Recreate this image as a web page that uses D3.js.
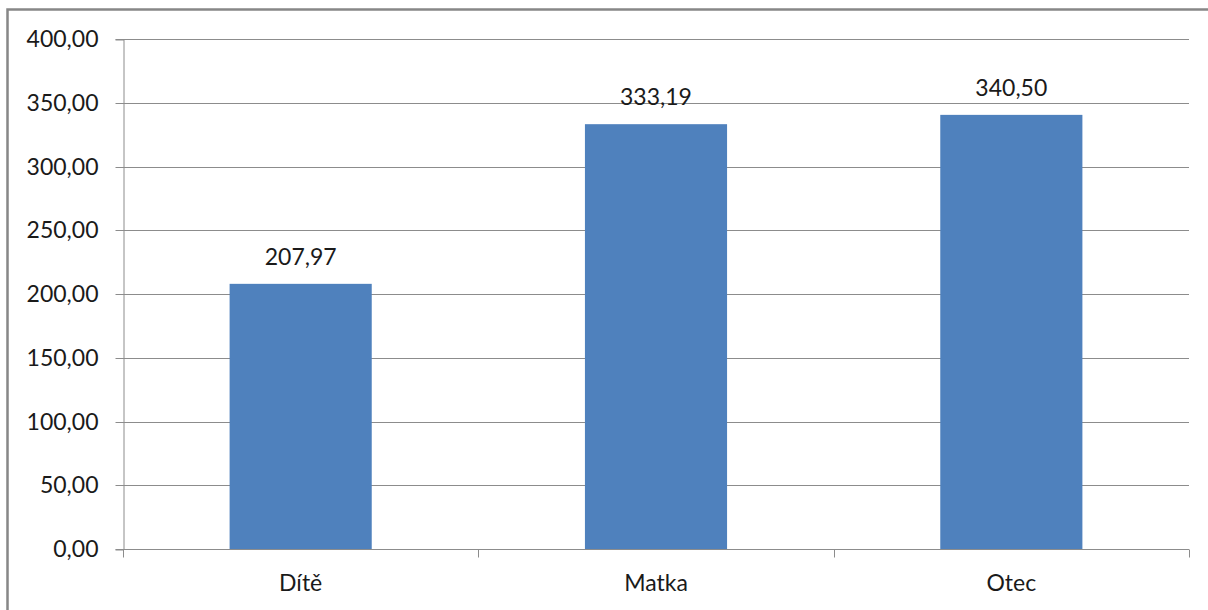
<!DOCTYPE html>
<html>
<head>
<meta charset="utf-8">
<script src="https://cdn.jsdelivr.net/npm/d3@7"></script>
<style>
  html, body { margin: 0; padding: 0; background: #fff; }
  svg { display: block; }
  text { font-family: Lato, "Open Sans", sans-serif; fill: #1a1a1a; }
</style>
</head>
<body>
<svg id="chart" width="1208" height="610"></svg>
<script>
// Categories and their values
const categories = ["Dítě", "Matka", "Otec"];
const values = [207.97, 333.19, 340.50];
const yTicks = [0, 50, 100, 150, 200, 250, 300, 350, 400];

const W = 1208, H = 610;
const margin = { left: 123, right: 19, top: 39, bottom: 61 };
const FONT_SIZE = 23;

const svg = d3.select("#chart");

// outer chart frame
svg.append("rect")
  .attr("x", 7.5).attr("y", 9.5)
  .attr("width", W + 20).attr("height", H + 20)
  .attr("fill", "none")
  .attr("stroke", "#878787")
  .attr("stroke-width", 2.5);

const x = d3.scaleBand()
  .domain(categories)
  .range([margin.left, W - margin.right])
  .paddingInner(0.6)
  .paddingOuter(0.3);

const y = d3.scaleLinear()
  .domain([0, 400])
  .range([H - margin.bottom, margin.top]);

const fmt = v => d3.format(".2f")(v).replace(".", ",");

// horizontal gridlines
svg.append("g")
  .selectAll("line")
  .data(yTicks.filter(d => d > 0))
  .join("line")
  .attr("x1", margin.left).attr("x2", W - margin.right)
  .attr("y1", d => Math.round(y(d)) + 0.5).attr("y2", d => Math.round(y(d)) + 0.5)
  .attr("stroke", "#8c8c8c").attr("stroke-width", 1);

// bars
svg.append("g")
  .selectAll("rect")
  .data(values)
  .join("rect")
  .attr("x", (d, i) => x(categories[i]))
  .attr("width", x.bandwidth())
  .attr("y", d => y(d))
  .attr("height", d => y(0) - y(d))
  .attr("fill", "#4f81bd");

// value labels above bars
svg.append("g")
  .selectAll("text")
  .data(values)
  .join("text")
  .attr("x", (d, i) => x(categories[i]) + x.bandwidth() / 2)
  .attr("y", d => y(d) - 19)
  .attr("text-anchor", "middle")
  .attr("font-size", FONT_SIZE)
  .text(d => fmt(d));

// y axis
const yAxis = svg.append("g")
  .attr("transform", `translate(${margin.left + 0.5},0.5)`)
  .call(d3.axisLeft(y).tickValues(yTicks).tickSize(8).tickPadding(17).tickFormat(fmt));
yAxis.select(".domain").attr("stroke", "#8c8c8c");
yAxis.selectAll(".tick line").attr("stroke", "#8c8c8c");
yAxis.selectAll(".tick text")
  .attr("font-family", "Lato, 'Open Sans', sans-serif")
  .attr("font-size", FONT_SIZE)
  .attr("fill", "#1a1a1a");
yAxis.selectAll(".tick").attr("transform", d => `translate(0,${Math.round(y(d))})`);

// x axis with boundary ticks between categories
const xBase = Math.round(y(0)) + 0.5;
const bandStep = (W - margin.right - margin.left) / categories.length;
svg.append("line")
  .attr("x1", margin.left).attr("x2", W - margin.right)
  .attr("y1", xBase).attr("y2", xBase)
  .attr("stroke", "#8c8c8c");
svg.append("g")
  .selectAll("line")
  .data(d3.range(categories.length + 1))
  .join("line")
  .attr("x1", i => Math.round(margin.left + i * bandStep) + 0.5)
  .attr("x2", i => Math.round(margin.left + i * bandStep) + 0.5)
  .attr("y1", xBase).attr("y2", xBase + 8)
  .attr("stroke", "#8c8c8c");

svg.append("g")
  .selectAll("text")
  .data(categories)
  .join("text")
  .attr("x", d => x(d) + x.bandwidth() / 2)
  .attr("y", 591)
  .attr("text-anchor", "middle")
  .attr("font-size", FONT_SIZE)
  .text(d => d);
</script>
</body>
</html>
